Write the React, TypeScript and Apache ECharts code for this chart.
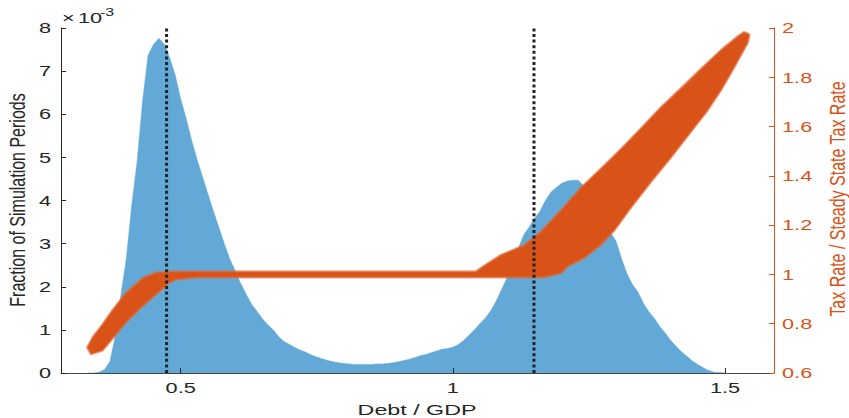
import { useEffect, useRef } from "react";
import * as echarts from "echarts";

// Histogram of debt/GDP over the simulation (bin centres start at HIST_START, spaced HIST_STEP)
const HIST_START = 0.33;
const HIST_STEP = 0.01;
// Fraction of simulation periods, in units of 1e-3
const histShare = [
  0, 0, 0.02, 0.08, 0.27, 0.87, 1.8, 2.66, 3.89, 4.93,
  6.32, 7.37, 7.62, 7.76, 7.62, 7.3, 6.9, 6.35, 5.9, 5.4,
  4.95, 4.55, 4.15, 3.75, 3.38, 3.0, 2.65, 2.37, 2.08, 1.83,
  1.6, 1.43, 1.26, 1.12, 1.0, 0.84, 0.73, 0.66, 0.59, 0.53,
  0.48, 0.42, 0.37, 0.33, 0.29, 0.26, 0.24, 0.22, 0.21, 0.2,
  0.2, 0.2, 0.2, 0.21, 0.21, 0.22, 0.24, 0.26, 0.29, 0.32,
  0.36, 0.4, 0.43, 0.47, 0.51, 0.55, 0.57, 0.6, 0.66, 0.76,
  0.88, 1.01, 1.15, 1.28, 1.45, 1.68, 1.95, 2.22, 2.55, 2.88,
  3.2, 3.38, 3.58, 3.75, 4.0, 4.19, 4.3, 4.4, 4.45, 4.47,
  4.47, 4.35, 4.15, 3.95, 3.7, 3.45, 3.25, 3.05, 2.65, 2.3,
  2.05, 1.88, 1.62, 1.42, 1.27, 1.08, 0.93, 0.76, 0.62, 0.49,
  0.39, 0.28, 0.2, 0.12, 0.06, 0.02, 0.01, 0,
];

// Cloud of tax-rate outcomes: upper and lower envelope (tax rate / steady-state tax rate)
const bandTopX = [
  0.328, 0.331, 0.338, 0.356, 0.374, 0.399, 0.43, 0.454, 0.469, 0.478,
  0.491, 1.042, 1.057, 1.088, 1.131, 1.162, 1.199, 1.235, 1.272, 1.309,
  1.346, 1.382, 1.419, 1.456, 1.493, 1.524, 1.535, 1.544,
];
const bandTop = [
  0.703, 0.717, 0.745, 0.797, 0.854, 0.925, 0.986, 1.008, 1.01, 1.012,
  1.012, 1.012, 1.035, 1.079, 1.119, 1.175, 1.262, 1.352, 1.43, 1.51,
  1.594, 1.678, 1.756, 1.835, 1.912, 1.968, 1.984, 1.976,
];
const bandBottomX = [
  0.328, 0.335, 0.356, 0.374, 0.399, 0.43, 0.454, 0.469, 0.478, 0.491,
  0.515, 0.537, 1.167, 1.199, 1.211, 1.241, 1.272, 1.297, 1.327, 1.364,
  1.401, 1.431, 1.468, 1.493, 1.517, 1.542, 1.545,
];
const bandBottom = [
  0.703, 0.676, 0.69, 0.737, 0.804, 0.871, 0.918, 0.945, 0.965, 0.978,
  0.985, 0.988, 0.988, 1.005, 1.032, 1.066, 1.119, 1.179, 1.27, 1.375,
  1.475, 1.56, 1.665, 1.748, 1.84, 1.94, 1.971,
];

// Debt thresholds marked by dotted verticals
const thresholds = [0.474, 1.149];

// Tick values
const debtTicks = [0.5, 1, 1.5];
const shareTicks = [0, 1, 2, 3, 4, 5, 6, 7, 8];
const taxTicks = [0.6, 0.8, 1, 1.2, 1.4, 1.6, 1.8, 2];

const BLUE = "#63A9D7";
const ORANGE = "#D95319";
const INK = "#262626";
const FONT = '"Liberation Sans", Arial, Helvetica, sans-serif';
const SX = 1.45;

export default function App() {
  const ref = useRef<HTMLDivElement>(null);

  useEffect(() => {
    if (!ref.current) return;
    const chart = echarts.init(ref.current, undefined, { renderer: "svg" });

    const histData = histShare.map((v, i) => [
      +(HIST_START + i * HIST_STEP).toFixed(2),
      v,
    ]);

    const thresholdSeries = thresholds.map((x) => ({
      type: "line",
      yAxisIndex: 0,
      data: [
        [x, 0],
        [x, 8],
      ],
      showSymbol: false,
      symbol: "none",
      silent: true,
      z: 6,
      lineStyle: { color: "#222", width: 3, type: [3, 2.6], cap: "butt" },
    }));

    chart.setOption({
      animation: false,
      grid: { left: 61, right: 75, top: 28, bottom: 45, containLabel: false },
      xAxis: {
        type: "value",
        min: 0.28,
        max: 1.59,
        z: 10,
        axisLine: { show: true, lineStyle: { color: "#444", width: 1 } },
        axisTick: {
          show: true,
          inside: true,
          length: 5,
          customValues: debtTicks,
          lineStyle: { color: INK },
        },
        axisLabel: { show: false },
        splitLine: { show: false },
      },
      yAxis: [
        {
          type: "value",
          min: 0,
          max: 8,
          interval: 1,
          z: 10,
          axisLine: { show: true, lineStyle: { color: INK, width: 1 } },
          axisTick: { show: true, inside: true, length: 5, lineStyle: { color: INK } },
          axisLabel: { show: false },
          splitLine: { show: false },
        },
        {
          type: "value",
          min: 0.6,
          max: 2,
          interval: 0.2,
          position: "right",
          z: 10,
          axisLine: { show: true, lineStyle: { color: ORANGE, width: 1 } },
          axisTick: { show: true, inside: true, length: 5, lineStyle: { color: ORANGE } },
          axisLabel: { show: false },
          splitLine: { show: false },
        },
      ],
      series: [
        {
          type: "line",
          yAxisIndex: 0,
          data: histData,
          showSymbol: false,
          symbol: "none",
          silent: true,
          z: 1,
          lineStyle: { color: BLUE, width: 0.5 },
          areaStyle: { color: BLUE, opacity: 1 },
        },
        {
          type: "custom",
          xAxisIndex: 0,
          yAxisIndex: 1,
          silent: true,
          z: 3,
          data: [[1, 1]],
          renderItem: (_params: any, api: any) => {
            const pts: number[][] = [];
            for (let i = 0; i < bandTopX.length; i++) {
              pts.push(api.coord([bandTopX[i], bandTop[i]]));
            }
            for (let i = bandBottomX.length - 1; i >= 0; i--) {
              pts.push(api.coord([bandBottomX[i], bandBottom[i]]));
            }
            return {
              type: "polygon",
              shape: { points: pts },
              style: {
                fill: ORANGE,
                stroke: "rgba(224,105,58,0.6)",
                lineWidth: 2.2,
                lineJoin: "round",
              },
            };
          },
        },
        ...thresholdSeries,
      ],
    });

    // Tick labels and titles, placed through the axes' own scales
    const px = (v: number) => chart.convertToPixel({ xAxisIndex: 0 }, v) as number;
    const pyL = (v: number) => chart.convertToPixel({ yAxisIndex: 0 }, v) as number;
    const pyR = (v: number) => chart.convertToPixel({ yAxisIndex: 1 }, v) as number;

    const txt = (
      text: string,
      x: number,
      y: number,
      align: string,
      fill: string,
      size = 15,
      sx = SX
    ) => ({
      type: "text",
      x,
      y,
      scaleX: sx,
      silent: true,
      style: {
        text,
        fill,
        fontSize: size,
        fontFamily: FONT,
        align,
        verticalAlign: "middle",
      },
    });

    const elements: any[] = [];
    debtTicks.forEach((v) => elements.push(txt(String(v), px(v), 388, "center", INK)));
    shareTicks.forEach((v) => elements.push(txt(String(v), 51, pyL(v), "right", INK)));
    taxTicks.forEach((v) =>
      elements.push(txt(String(+v.toFixed(1)), 782, pyR(v), "left", ORANGE))
    );

    // exponent for the share axis
    elements.push(txt("\u00d7", 62, 18, "left", INK, 15));
    elements.push(txt("10", 78, 18, "left", INK, 15));
    elements.push(txt("-3", 100, 12, "left", INK, 11));

    // axis titles
    elements.push(txt("Debt / GDP", 417, 410, "center", INK, 15.5, 1.5));
    elements.push({
      type: "group",
      x: 18,
      y: 200,
      scaleX: 1.35,
      silent: true,
      children: [
        {
          type: "text",
          rotation: Math.PI / 2,
          style: {
            text: "Fraction of Simulation Periods",
            fill: INK,
            fontSize: 16,
            fontFamily: FONT,
            align: "center",
            verticalAlign: "middle",
          },
        },
      ],
    });
    elements.push({
      type: "group",
      x: 837,
      y: 199,
      scaleX: 1.4,
      silent: true,
      children: [
        {
          type: "text",
          rotation: Math.PI / 2,
          style: {
            text: "Tax Rate / Steady State Tax Rate",
            fill: ORANGE,
            fontSize: 16,
            fontFamily: FONT,
            align: "center",
            verticalAlign: "middle",
          },
        },
      ],
    });

    chart.setOption({ graphic: { elements } });

    return () => chart.dispose();
  }, []);

  return (
    <div
      ref={ref}
      style={{ position: "absolute", left: 0, top: 0, width: 849, height: 418 }}
    />
  );
}
